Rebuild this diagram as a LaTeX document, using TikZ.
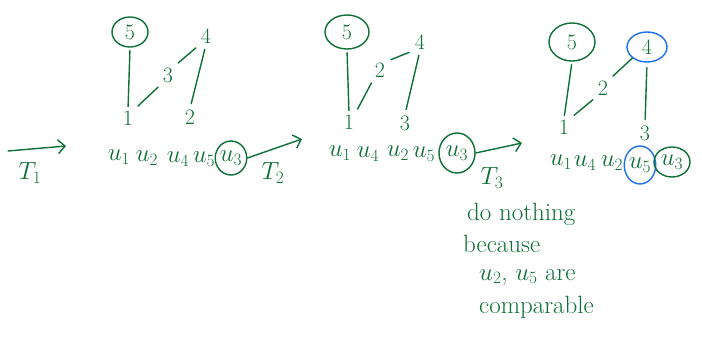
\documentclass[tikz,border=0pt]{standalone}
\usetikzlibrary{shapes.geometric,arrows.meta}
\definecolor{gr}{RGB}{14,112,52}
\definecolor{bl}{RGB}{30,110,240}
\tikzset{
  ink/.style={draw=gr, line width=1.4pt, line cap=round},
  lbl/.style={text=gr, font=\fontsize{22}{26}\selectfont, inner sep=1pt},
  seq/.style={text=gr, font=\fontsize{27}{30}\selectfont, inner sep=0pt},
  note/.style={text=gr, font=\fontsize{25}{30}\selectfont, inner sep=1pt, anchor=west},
  ring/.style={ellipse, draw=gr, line width=1.4pt, inner sep=0pt},
  bring/.style={ring, draw=bl},
  arr/.style={ink, -{Straight Barb[length=7pt,width=14pt,line width=1.4pt]}},
  gap/.style={shorten <=5pt, shorten >=5pt},
}
\begin{document}
\begin{tikzpicture}[x=1pt,y=-1pt]
\useasboundingbox (0,0) rectangle (702,339);
% ---------- panel 1 ----------
\node[lbl,ring,minimum width=36pt,minimum height=30pt] (a5) at (130,32) {5};
\node[lbl] (a4) at (206,36) {4};
\node[lbl] (a3) at (168,75) {3};
\node[lbl] (a1) at (128,118) {1};
\node[lbl] (a2) at (190,117) {2};
\draw[ink,shorten <=3pt,shorten >=3pt] (a5.south) -- (a1.north);
\draw[ink,gap] (a1.north east) -- (a3.south west);
\draw[ink,gap] (a3.north east) -- (a4.south west);
\draw[ink,gap] (a4.south) -- (a2.north);
\node[seq] (au1) at (119,157) {$u_1$};
\node[seq] (au2) at (147,158) {$u_2$};
\node[seq] (au4) at (178,159) {$u_4$};
\node[seq] (au5) at (204,159) {$u_5$};
\node[seq,ring,minimum width=30pt,minimum height=34pt] (au3) at (231,158) {$u_3$};
\coordinate (t1s) at (8,151);
\coordinate (t1e) at (66,146);
\draw[arr] (t1s) -- (t1e);
\node[seq] (T1) at (30,173) {$T_1$};
\coordinate (t2e) at (302,139);
\draw[arr] (au3.east) -- (t2e);
\node[seq] (T2) at (273,173) {$T_2$};
% ---------- panel 2 ----------
\node[lbl,ring,minimum width=44pt,minimum height=34pt] (b5) at (347,32) {5};
\node[lbl] (b4) at (420,42) {4};
\node[lbl] (b2) at (380,70) {2};
\node[lbl] (b1) at (349,122) {1};
\node[lbl] (b3) at (405,123) {3};
\draw[ink,shorten <=3pt,shorten >=3pt] (b5.south) -- (b1.north);
\draw[ink,gap] (b1.north east) -- (b2.south west);
\draw[ink,gap] (b2.north east) -- (b4.south west);
\draw[ink,gap] (b4.south) -- (b3.north);
\node[seq] (bu1) at (340,153) {$u_1$};
\node[seq] (bu4) at (368,154) {$u_4$};
\node[seq] (bu2) at (398,153) {$u_2$};
\node[seq] (bu5) at (424,154) {$u_5$};
\node[seq,ring,minimum width=36pt,minimum height=40pt] (bu3) at (457,153) {$u_3$};
\coordinate (t3e) at (522,143);
\draw[arr] (bu3.east) -- (t3e);
\node[seq] (T3) at (492,178) {$T_3$};
% ---------- panel 3 ----------
\node[lbl,ring,minimum width=46pt,minimum height=38pt] (c5) at (572,42) {5};
\node[lbl,bring,minimum width=40pt,minimum height=30pt] (c4) at (647,47) {4};
\node[lbl] (c2) at (603,88) {2};
\node[lbl] (c1) at (564,127) {1};
\node[lbl] (c3) at (645,133) {3};
\draw[ink,shorten <=3pt,shorten >=3pt] (c5.south) -- (c1.north);
\draw[ink,gap] (c1.north east) -- (c2.south west);
\draw[ink,shorten <=5pt] (c2.north east) -- (c4.south west);
\draw[ink,gap] (c4.south) -- (c3.north);
\node[seq] (cu1) at (561,162) {$u_1$};
\node[seq] (cu4) at (585,163) {$u_4$};
\node[seq] (cu2) at (612,163) {$u_2$};
\node[seq,bring,minimum width=29pt,minimum height=38pt] (cu5) at (640,165) {$u_5$};
\node[seq,ring,minimum width=36pt,minimum height=30pt] (cu3) at (672,162) {$u_3$};
% ---------- note ----------
\node[note] (n1) at (466,214) {do nothing};
\node[note] (n2) at (462,244) {because};
\node[note] (n3) at (478,277) {$u_2$, $u_5$ are};
\node[note] (n4) at (478,307) {comparable};
\end{tikzpicture}
\end{document}
